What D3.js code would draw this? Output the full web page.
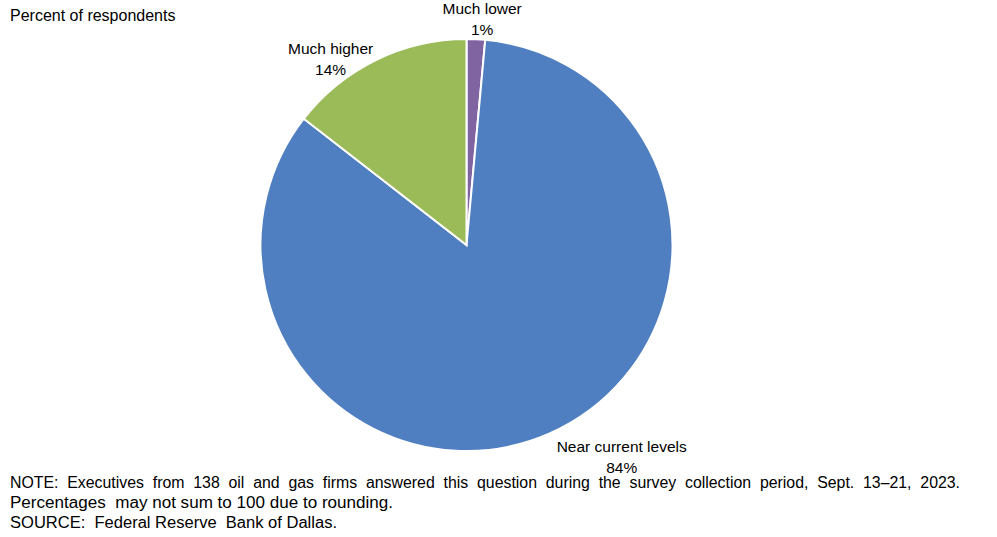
<!DOCTYPE html>
<html>
<head>
<meta charset="utf-8">
<script src="https://cdn.jsdelivr.net/npm/d3@7"></script>
<style>
  body { margin: 0; background: #fff; }
  text { font-family: Arial, "Liberation Sans", sans-serif; fill: #000; }
  .note { font-family: "Liberation Sans Narrow", "Arial Narrow", Arial, sans-serif; }
</style>
</head>
<body>
<div class="chart"></div>
<script>
// respondents out of 138 firms
const categories = ["Much lower", "Near current levels", "Much higher"];
const counts = [2, 116, 20];
const labels = ["1%", "84%", "14%"];
const colors = ["#8064a2", "#4f7fc1", "#9bbb59"];

var w = 997,
	h = 537,
	cx = 466.5,
	cy = 245,
	r = 206;

const svg = d3.select(".chart").append("svg").attr("width", w).attr("height", h);

const pie = d3.pie().sort(null).value((d) => d.count);
const arc = d3.arc().innerRadius(0).outerRadius(r);

const data = categories.map((c, i) => ({ name: c, count: counts[i], label: labels[i], color: colors[i] }));
const arcs = pie(data);

const g = svg.append("g").attr("transform", "translate(" + cx + "," + cy + ")");

g.selectAll("path")
	.data(arcs)
	.enter()
	.append("path")
	.attr("d", arc)
	.attr("fill", (d) => d.data.color)
	.attr("stroke", "#fff")
	.attr("stroke-width", 2);

// label positions relative to each slice's outer edge
const labelArc = d3.arc().innerRadius(r + 28).outerRadius(r + 28);
const offsets = [[5, 3], [62, -8], [-33, 19]];

arcs.forEach((d, i) => {
	const p = labelArc.centroid(d);
	const x = p[0] + offsets[i][0],
		y = p[1] + offsets[i][1];
	const t = g.append("text").attr("text-anchor", "middle").style("font-size", "15.5px");
	t.append("tspan").attr("x", x).attr("y", y).text(d.data.name);
	t.append("tspan").attr("x", x).attr("y", y + 21).text(d.data.label);
});

svg.append("text").attr("x", 10).attr("y", 21).style("font-size", "16px").text("Percent of respondents");

const notes = [
	"NOTE:  Executives  from  138  oil  and  gas  firms  answered  this  question  during  the  survey  collection  period,  Sept.  13–21,  2023.",
	"Percentages  may not sum to 100 due to rounding.",
	"SOURCE:  Federal Reserve  Bank of Dallas."
];
const noteWidths = [950, 383, 327];
svg.selectAll(".note")
	.data(notes)
	.enter()
	.append("text")
	.attr("class", "note")
	.attr("x", 10)
	.attr("y", (d, i) => 488 + i * 20)
	.style("font-size", "16px")
	.style("white-space", "pre")
	.attr("textLength", (d, i) => noteWidths[i])
	.attr("lengthAdjust", "spacingAndGlyphs")
	.text((d) => d);
</script>
</body>
</html>
